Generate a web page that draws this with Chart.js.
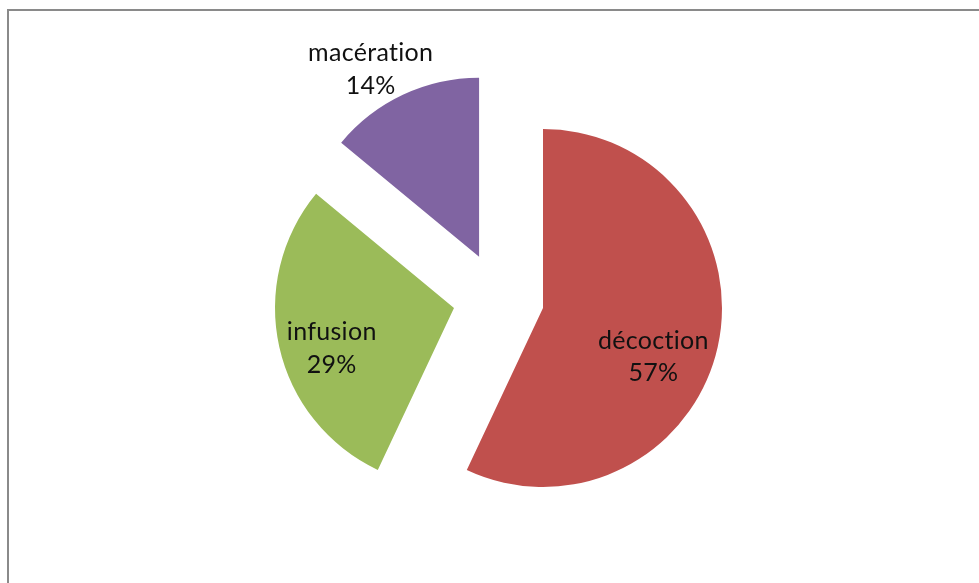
<!DOCTYPE html>
<html>
<head>
<meta charset="utf-8">
<style>
  html, body { margin: 0; padding: 0; background: #ffffff; }
  #wrap { width: 979px; height: 583px; position: relative; }
</style>
<script src="https://cdn.jsdelivr.net/npm/chart.js@4.4.1/dist/chart.umd.min.js"></script>
</head>
<body>
<div id="wrap"><canvas id="c" width="979" height="583"></canvas></div>
<script>
// ---- data ----
const categories = ['décoction', 'infusion', 'macération'];
const values = [57, 29, 14];
const percentLabels = ['57%', '29%', '14%'];
const colors = ['#C0504D', '#9BBB59', '#8064A2'];

// ---- label placement (relative to each slice: angle shift in degrees, distance as fraction of radius) ----
const labelAngleShift = [11.2, -5.6, -4.8];
const labelDistance = [0.674, 0.719, 1.211];
const EXPLODE = 45.6;

const explodePlugin = {
  id: 'explode',
  beforeDatasetsDraw(chart) {
    const ctx = chart.ctx;
    const meta = chart.getDatasetMeta(0);
    meta.data.forEach((arc) => {
      const mid = (arc.startAngle + arc.endAngle) / 2;
      ctx.save();
      ctx.translate(Math.cos(mid) * EXPLODE, Math.sin(mid) * EXPLODE);
      arc.draw(ctx);
      ctx.restore();
    });
    return false;
  },
  afterDraw(chart) {
    const ctx = chart.ctx;
    const meta = chart.getDatasetMeta(0);
    // frame
    ctx.save();
    ctx.strokeStyle = '#8a8a8a';
    ctx.lineWidth = 2;
    ctx.beginPath();
    ctx.moveTo(8, chart.height);
    ctx.lineTo(8, 10);
    ctx.lineTo(chart.width, 10);
    ctx.stroke();
    ctx.restore();
    // labels
    ctx.save();
    ctx.fillStyle = '#111111';
    ctx.font = '25px Lato';
    if ('letterSpacing' in ctx) ctx.letterSpacing = '0.3px';
    ctx.textAlign = 'center';
    ctx.textBaseline = 'alphabetic';
    meta.data.forEach((arc, i) => {
      const mid = (arc.startAngle + arc.endAngle) / 2;
      const vx = arc.x + Math.cos(mid) * EXPLODE;
      const vy = arc.y + Math.sin(mid) * EXPLODE;
      const a = mid + labelAngleShift[i] * Math.PI / 180;
      const d = labelDistance[i] * arc.outerRadius;
      const cx = vx + Math.cos(a) * d;
      const cy = vy + Math.sin(a) * d;
      ctx.fillText(categories[i], cx, cy - 8);
      ctx.fillText(percentLabels[i], cx, cy + 24.5);
    });
    ctx.restore();
  }
};

new Chart(document.getElementById('c'), {
  type: 'pie',
  data: {
    labels: categories,
    datasets: [{
      data: values,
      backgroundColor: colors,
      borderColor: colors,
      borderWidth: 0,
      radius: 179
    }]
  },
  options: {
    responsive: false,
    animation: false,
    events: [],
    layout: { padding: { left: 18, top: 13, right: 0, bottom: 0 } },
    plugins: {
      legend: { display: false },
      tooltip: { enabled: false },
      title: { display: false }
    }
  },
  plugins: [explodePlugin]
});
</script>
</body>
</html>
